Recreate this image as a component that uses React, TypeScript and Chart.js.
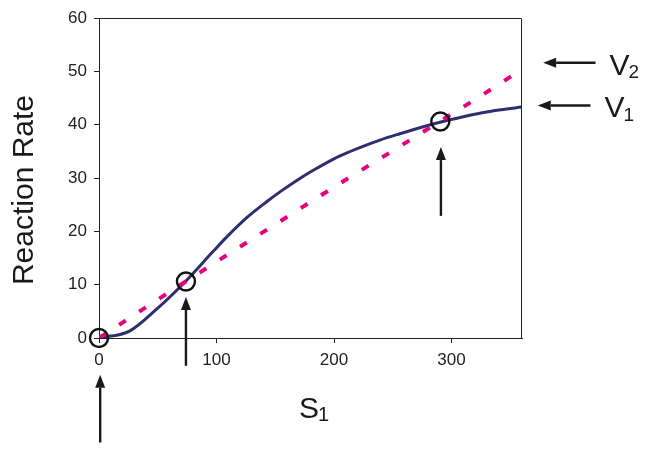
import React, { useEffect, useRef } from "react";
import { Chart, registerables } from "chart.js";

Chart.register(...registerables);

const FONT = "'Liberation Sans', Arial, sans-serif";

// V1 (solid) curve samples
const v1X = [0, 26, 49, 74, 97, 109, 126, 143, 154, 168, 182, 200, 211, 228, 239, 256, 268, 291, 310, 325, 342, 360];
const v1Y = [0, 1.3, 5.4, 10.7, 16.2, 19.0, 22.6, 25.6, 27.4, 29.5, 31.4, 33.6, 34.7, 36.2, 37.1, 38.3, 39.1, 40.5, 41.5, 42.2, 42.8, 43.3];

// V2 (dashed) curve samples
const v2X = [0, 50, 100, 150, 200, 250, 290, 330, 360];
const v2Y = [0, 7.2, 14.3, 21.3, 28.3, 35.1, 40.6, 46.1, 50.4];

// circled intersections
const circleX = [0, 74, 290.5];
const circleY = [0, 10.6, 40.6];

const xTicks = [0, 100, 200, 300];
const yTicks = [0, 10, 20, 30, 40, 50, 60];

// arrows in data units: tail -> tip
const arrowTailX = [1, 74, 291, 422.6, 418.3];
const arrowTailY = [-19.6, -5.2, 22.9, 51.6, 43.6];
const arrowTipX = [1, 74, 291, 378, 373.4];
const arrowTipY = [-6.9, 7.7, 35.8, 51.6, 43.6];

const rightLabels = [
  { main: "V", sub: "2", arrow: 3 },
  { main: "V", sub: "1", arrow: 4 },
];

const toPts = (xs: number[], ys: number[]) => xs.map((x, i) => ({ x, y: ys[i] }));

const extras = {
  id: "extras",
  afterDraw(chart: any) {
    const ctx = chart.ctx as CanvasRenderingContext2D;
    const { left, right, top, bottom } = chart.chartArea;
    const xs = chart.scales.x;
    const ys = chart.scales.y;
    ctx.save();
    // frame top & right
    ctx.strokeStyle = "#222";
    ctx.lineWidth = 1;
    ctx.beginPath();
    const t = Math.round(top) + 0.5;
    const r = Math.round(right) - 0.5;
    ctx.moveTo(left, t);
    ctx.lineTo(r, t);
    ctx.lineTo(r, bottom);
    ctx.stroke();

    // arrows
    ctx.fillStyle = "#1a1a1a";
    ctx.strokeStyle = "#1a1a1a";
    for (let i = 0; i < arrowTailX.length; i++) {
      const x0 = xs.getPixelForValue(arrowTailX[i]);
      const y0 = ys.getPixelForValue(arrowTailY[i]);
      const x1 = xs.getPixelForValue(arrowTipX[i]);
      const y1 = ys.getPixelForValue(arrowTipY[i]);
      const ang = Math.atan2(y1 - y0, x1 - x0);
      const hl = 13;
      const hw = 5;
      const bx = x1 - Math.cos(ang) * hl;
      const by = y1 - Math.sin(ang) * hl;
      ctx.lineWidth = 2.4;
      ctx.beginPath();
      ctx.moveTo(x0, y0);
      ctx.lineTo(bx, by);
      ctx.stroke();
      ctx.beginPath();
      ctx.moveTo(x1, y1);
      ctx.lineTo(bx + Math.sin(ang) * hw, by - Math.cos(ang) * hw);
      ctx.lineTo(bx - Math.sin(ang) * hw, by + Math.cos(ang) * hw);
      ctx.closePath();
      ctx.fill();
    }

    // right labels
    ctx.fillStyle = "#1a1a1a";
    ctx.textBaseline = "alphabetic";
    ctx.textAlign = "left";
    for (const lab of rightLabels) {
      const ax = xs.getPixelForValue(arrowTailX[lab.arrow]);
      const ay = ys.getPixelForValue(arrowTailY[lab.arrow]);
      const lx = ax + 14;
      const ly = ay + 12;
      ctx.font = `30px ${FONT}`;
      ctx.fillText(lab.main, lx, ly);
      const w = ctx.measureText(lab.main).width;
      ctx.font = `19px ${FONT}`;
      ctx.fillText(lab.sub, lx + w - 1, ly + 3.5);
    }

    // x title S1
    ctx.font = `30px ${FONT}`;
    const sw = ctx.measureText("S").width;
    const cx = (left + right) / 2;
    const sx = cx - 11.5;
    ctx.fillText("S", sx, 418);
    ctx.font = `20px ${FONT}`;
    ctx.fillText("1", sx + sw - 1, 420.5);

    // y title
    ctx.translate(33, (top + bottom) / 2 + 12);
    ctx.rotate(-Math.PI / 2);
    ctx.textAlign = "center";
    ctx.font = `30px ${FONT}`;
    ctx.fillText("Reaction Rate", 0, 0);
    ctx.restore();
  },
};

export default function App() {
  const ref = useRef<HTMLCanvasElement | null>(null);
  useEffect(() => {
    document.body.style.margin = "0";
    const canvas = ref.current!;
    const chart = new Chart(canvas, {
      type: "line",
      data: {
        datasets: [
          {
            label: "circles",
            data: toPts(circleX, circleY),
            showLine: false,
            pointRadius: 9,
            pointBorderWidth: 2.4,
            pointBorderColor: "#111",
            pointBackgroundColor: "rgba(0,0,0,0)",
            clip: false,
          } as any,
          {
            label: "V2",
            data: toPts(v2X, v2Y),
            borderColor: "#e6007e",
            borderWidth: 4,
            borderDash: [8, 16],
            borderCapStyle: "butt",
            pointRadius: 0,
            cubicInterpolationMode: "monotone",
            fill: false,
          },
          {
            label: "V1",
            data: toPts(v1X, v1Y),
            borderColor: "#2d2f6e",
            borderWidth: 3,
            pointRadius: 0,
            cubicInterpolationMode: "monotone",
            fill: false,
          },
        ],
      },
      options: {
        animation: false,
        responsive: false,
        layout: { padding: { top: 18, right: 127, left: 0, bottom: 0 } },
        plugins: { legend: { display: false }, tooltip: { enabled: false } },
        scales: {
          x: {
            type: "linear",
            min: 0,
            max: 360,
            afterBuildTicks: (s: any) => {
              s.ticks = xTicks.map((v) => ({ value: v }));
            },
            afterFit: (s: any) => {
              s.height = 116;
            },
            grid: { drawOnChartArea: false, drawTicks: true, tickLength: 5, color: "#222" },
            border: { color: "#222", width: 1 },
            ticks: { font: { family: FONT, size: 17 }, color: "#222", padding: 7, maxRotation: 0 },
          },
          y: {
            type: "linear",
            min: 0,
            max: 60,
            afterBuildTicks: (s: any) => {
              s.ticks = yTicks.map((v) => ({ value: v }));
            },
            afterFit: (s: any) => {
              s.width = 99;
            },
            grid: { drawOnChartArea: false, drawTicks: true, tickLength: 5, color: "#222" },
            border: { color: "#222", width: 1 },
            ticks: { font: { family: FONT, size: 17 }, color: "#222", padding: 7 },
          },
        },
      },
      plugins: [extras],
    });
    return () => chart.destroy();
  }, []);
  return <canvas ref={ref} width={649} height={454} style={{ display: "block", width: 649, height: 454 }} />;
}
